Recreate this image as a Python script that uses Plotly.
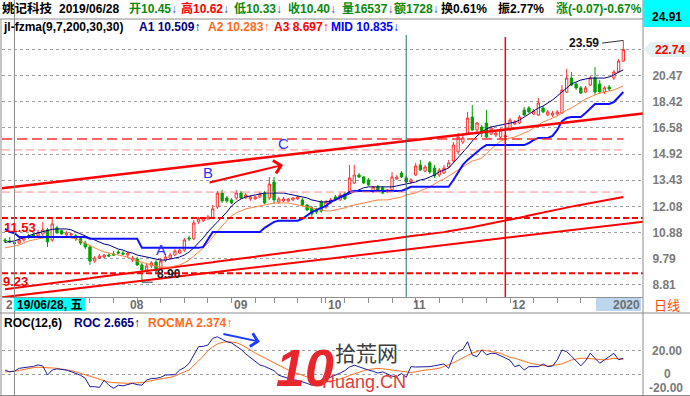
import math
import pandas as pd
import plotly.graph_objects as go

# ---------------- data ----------------
holidays = ["2019-09-13", "2019-10-01", "2019-10-02", "2019-10-03", "2019-10-04",
            "2019-10-07", "2020-01-01"]
dates = [d for d in pd.bdate_range("2019-06-26", "2020-01-06")
         if d.strftime("%Y-%m-%d") not in holidays]

open_ = [10.55, 10.51, 10.45, 10.42, 10.55, 10.73, 10.77, 10.73, 10.81, 10.99,
         10.55, 11.08, 10.95, 10.77, 10.77, 10.73, 10.60, 10.42, 10.26, 9.69,
         9.81, 9.85, 9.93, 9.97, 10.05, 10.01, 9.93, 9.73, 9.77, 9.54,
         9.35, 9.50, 9.65, 9.42, 9.73, 9.81, 9.93, 10.01, 10.13, 10.64,
         10.60, 11.35, 11.40, 11.49, 11.53, 12.05, 12.75, 12.50, 12.40, 12.50,
         12.75, 12.50, 12.45, 12.45, 12.55, 12.75, 12.50, 13.33, 12.30, 12.35,
         12.35, 12.40, 12.45, 12.40, 12.15, 12.01, 11.91, 12.30, 12.05, 12.25,
         12.55, 12.40, 12.70, 12.75, 13.28, 13.71, 13.60, 13.44, 12.81, 13.07,
         13.02, 12.81, 12.91, 13.49, 13.82, 13.55, 13.33, 13.71, 14.28, 13.93,
         14.40, 14.10, 13.71, 13.82, 14.16, 14.51, 15.05, 15.66, 16.24, 17.32,
         16.44, 16.64, 16.91, 16.17, 16.11, 15.98, 15.98, 16.44, 16.84, 16.91,
         17.82, 17.96, 17.53, 17.46, 17.96, 17.46, 17.46, 17.53, 17.60, 19.16,
         20.27, 19.79, 19.48, 19.16, 19.71, 20.27, 19.79, 19.16, 19.55, 20.27,
         20.77, 21.71]
high = [10.64, 10.68, 10.62, 10.64, 10.68, 10.81, 10.86, 10.99, 11.35, 11.08,
        11.49, 11.17, 10.99, 10.95, 10.86, 10.81, 10.68, 10.51, 10.34, 9.89,
        9.97, 9.97, 10.01, 10.09, 10.13, 10.09, 10.05, 9.89, 9.85, 9.62,
        9.58, 9.69, 9.73, 9.81, 9.97, 10.01, 10.17, 10.17, 10.64, 10.73,
        11.44, 11.58, 11.58, 11.67, 12.15, 12.86, 12.91, 12.60, 12.50, 12.91,
        12.86, 12.75, 12.65, 12.60, 12.81, 12.86, 13.60, 13.60, 12.55, 12.55,
        12.50, 12.55, 12.60, 12.50, 12.20, 12.10, 12.01, 12.40, 12.40, 12.50,
        12.65, 12.75, 12.81, 14.28, 14.28, 13.82, 13.66, 13.55, 13.12, 13.17,
        13.12, 12.96, 13.88, 13.71, 13.93, 13.66, 13.55, 14.40, 14.57, 14.28,
        14.51, 14.28, 14.10, 14.28, 14.57, 15.66, 16.24, 16.11, 17.68, 18.18,
        16.97, 16.77, 17.82, 16.70, 16.37, 16.57, 16.17, 17.25, 17.11, 17.46,
        18.03, 18.11, 17.89, 18.70, 18.11, 17.82, 17.75, 17.82, 19.71, 21.03,
        20.77, 19.95, 19.63, 19.63, 20.44, 21.19, 20.11, 19.63, 19.71, 20.94,
        21.89, 23.59]
low = [10.42, 10.42, 10.33, 10.38, 10.47, 10.60, 10.64, 10.68, 10.73, 10.26,
       10.47, 10.81, 10.77, 10.73, 10.68, 10.51, 10.34, 10.17, 9.54, 9.62,
       9.77, 9.81, 9.85, 9.89, 9.97, 9.93, 9.81, 9.65, 9.50, 8.90,
       9.27, 9.42, 9.20, 9.35, 9.65, 9.77, 9.89, 9.97, 10.05, 10.51,
       10.55, 11.26, 11.35, 11.44, 11.49, 11.96, 12.25, 12.25, 12.20, 12.40,
       12.45, 12.45, 12.35, 12.40, 12.50, 12.20, 12.40, 12.20, 12.20, 12.30,
       12.30, 12.35, 12.40, 12.10, 11.86, 11.58, 11.72, 11.77, 11.96, 12.20,
       12.35, 12.35, 12.40, 12.70, 13.22, 13.55, 13.22, 13.12, 12.75, 12.81,
       12.70, 12.75, 12.86, 13.44, 13.55, 13.28, 13.22, 13.66, 13.93, 13.88,
       13.77, 13.55, 13.60, 13.77, 14.10, 14.40, 14.92, 15.53, 16.11, 16.37,
       16.31, 15.98, 15.92, 16.11, 15.98, 15.85, 15.47, 16.37, 16.77, 16.84,
       17.39, 17.60, 17.46, 17.39, 17.60, 17.39, 17.32, 17.39, 17.53, 19.08,
       19.63, 19.32, 19.01, 19.08, 19.63, 18.93, 19.01, 19.01, 19.24, 20.11,
       20.69, 21.63]
close = [10.51, 10.47, 10.40, 10.55, 10.64, 10.68, 10.68, 10.86, 10.99, 10.47,
         11.26, 10.86, 10.81, 10.86, 10.81, 10.60, 10.42, 10.26, 9.69, 9.81,
         9.89, 9.93, 9.89, 9.93, 10.01, 9.97, 10.01, 9.81, 9.54, 9.35,
         9.50, 9.62, 9.31, 9.69, 9.85, 9.93, 10.09, 10.13, 10.55, 10.60,
         11.30, 11.49, 11.53, 11.58, 11.96, 12.75, 12.35, 12.35, 12.25, 12.75,
         12.50, 12.65, 12.55, 12.55, 12.70, 12.25, 13.22, 12.40, 12.45, 12.45,
         12.45, 12.50, 12.55, 12.15, 11.91, 11.72, 11.81, 11.86, 12.30, 12.40,
         12.40, 12.65, 12.45, 13.55, 13.71, 13.60, 13.28, 13.17, 13.07, 12.86,
         12.75, 12.91, 13.60, 13.60, 13.60, 13.33, 13.44, 14.22, 13.99, 14.16,
         13.88, 13.66, 13.99, 14.10, 14.40, 15.47, 15.98, 15.92, 17.25, 16.44,
         16.91, 16.24, 15.98, 16.57, 16.24, 16.44, 16.05, 17.11, 16.97, 17.32,
         17.46, 17.68, 17.75, 18.33, 17.68, 17.68, 17.60, 17.68, 19.32, 20.27,
         19.71, 19.48, 19.08, 19.48, 20.27, 19.16, 19.16, 19.48, 19.40, 20.77,
         21.71, 22.74]

a1 = [10.45, 10.48, 10.51, 10.58, 10.66, 10.73, 10.80, 10.86, 10.92, 10.97,
      11.01, 11.03, 11.03, 11.03, 10.99, 10.90, 10.81, 10.73, 10.64, 10.55,
      10.47, 10.38, 10.34, 10.26, 10.17, 10.13, 10.05, 10.01, 9.93, 9.89,
      9.85, 9.81, 9.77, 9.73, 9.73, 9.77, 9.81, 9.85, 9.93, 10.05,
      10.22, 10.42, 10.64, 10.90, 11.12, 11.35, 11.53, 11.81, 12.10, 12.30,
      12.45, 12.55, 12.60, 12.65, 12.70, 12.75, 12.75, 12.75, 12.75, 12.75,
      12.70, 12.65, 12.60, 12.55, 12.50, 12.40, 12.35, 12.30, 12.30, 12.35,
      12.40, 12.50, 12.60, 12.70, 12.81, 12.91, 13.02, 13.07, 13.07, 13.07,
      13.07, 13.07, 13.07, 13.12, 13.17, 13.22, 13.28, 13.33, 13.44, 13.49,
      13.60, 13.71, 13.88, 13.99, 14.10, 14.40, 14.69, 15.05, 15.35, 15.72,
      16.05, 16.31, 16.51, 16.64, 16.70, 16.77, 16.84, 16.91, 16.97, 17.11,
      17.32, 17.53, 17.75, 17.96, 18.11, 18.33, 18.55, 18.85, 19.16, 19.48,
      19.79, 19.95, 20.11, 20.19, 20.27, 20.27, 20.27, 20.27, 20.36, 20.52,
      20.77, 20.94]
a2 = [10.22, 10.26, 10.28, 10.34, 10.42, 10.51, 10.55, 10.60, 10.64, 10.68,
      10.68, 10.68, 10.68, 10.68, 10.64, 10.60, 10.51, 10.42, 10.34, 10.22,
      10.13, 10.05, 10.01, 9.97, 9.93, 9.89, 9.85, 9.77, 9.69, 9.65,
      9.58, 9.54, 9.50, 9.46, 9.46, 9.46, 9.50, 9.54, 9.62, 9.73,
      9.89, 10.05, 10.22, 10.42, 10.68, 10.95, 11.17, 11.40, 11.63, 11.77,
      11.86, 11.96, 12.01, 12.05, 12.10, 12.15, 12.20, 12.25, 12.25, 12.25,
      12.25, 12.20, 12.15, 12.10, 12.05, 12.01, 11.96, 11.91, 11.86, 11.86,
      11.91, 11.96, 12.01, 12.10, 12.15, 12.20, 12.25, 12.30, 12.35, 12.40,
      12.40, 12.40, 12.45, 12.50, 12.55, 12.65, 12.70, 12.75, 12.86, 12.96,
      13.07, 13.22, 13.39, 13.49, 13.66, 13.82, 13.99, 14.16, 14.34, 14.51,
      14.58, 14.69, 14.92, 15.23, 15.47, 15.72, 15.85, 15.92, 15.98, 16.11,
      16.24, 16.37, 16.57, 16.77, 16.97, 17.11, 17.25, 17.39, 17.60, 17.82,
      17.96, 18.18, 18.40, 18.62, 18.78, 18.93, 19.08, 19.16, 19.24, 19.32,
      19.48, 19.63]
a3 = [8.65, 8.67, 8.70, 8.71, 8.74, 8.76, 8.78, 8.80, 8.82, 8.85,
      8.87, 8.89, 8.91, 8.93, 8.95, 8.98, 9.00, 9.02, 9.04, 9.07,
      9.09, 9.11, 9.13, 9.16, 9.18, 9.20, 9.22, 9.25, 9.27, 9.29,
      9.32, 9.34, 9.36, 9.39, 9.41, 9.43, 9.46, 9.48, 9.50, 9.53,
      9.55, 9.57, 9.60, 9.62, 9.64, 9.67, 9.69, 9.72, 9.74, 9.77,
      9.79, 9.81, 9.84, 9.86, 9.89, 9.91, 9.94, 9.96, 9.99, 10.01,
      10.04, 10.06, 10.09, 10.11, 10.14, 10.16, 10.19, 10.21, 10.24, 10.26,
      10.29, 10.32, 10.34, 10.37, 10.39, 10.42, 10.44, 10.47, 10.50, 10.52,
      10.55, 10.58, 10.60, 10.63, 10.66, 10.68, 10.71, 10.74, 10.76, 10.78,
      10.80, 10.83, 10.86, 10.89, 10.93, 10.96, 10.99, 11.03, 11.07, 11.11,
      11.15, 11.19, 11.23, 11.27, 11.31, 11.35, 11.40, 11.44, 11.49, 11.54,
      11.59, 11.64, 11.69, 11.74, 11.79, 11.84, 11.89, 11.93, 11.98, 12.02,
      12.07, 12.11, 12.15, 12.19, 12.23, 12.27, 12.32, 12.36, 12.41, 12.45,
      12.50, 12.55]
mid = [11.03, 10.90, 10.84, 10.68, 10.68, 10.68, 10.68, 10.68, 10.68, 10.68,
       10.68, 10.68, 10.68, 10.68, 10.68, 10.68, 10.68, 10.68, 10.60, 10.60,
       10.60, 10.60, 10.60, 10.60, 10.60, 10.60, 10.60, 10.60, 10.60, 10.22,
       10.22, 10.22, 10.22, 10.22, 10.22, 10.22, 10.22, 10.22, 10.22, 10.22,
       10.22, 10.22, 10.26, 10.55, 10.90, 10.90, 10.90, 10.90, 10.90, 10.90,
       10.90, 10.90, 10.90, 10.90, 10.90, 11.08, 11.21, 11.35, 11.40, 11.40,
       11.40, 11.40, 11.40, 11.49, 11.67, 11.81, 11.91, 12.01, 12.10, 12.30,
       12.40, 12.55, 12.65, 12.81, 12.86, 12.86, 12.86, 12.86, 12.86, 12.86,
       12.86, 12.86, 12.86, 12.86, 12.86, 12.96, 13.07, 13.07, 13.07, 13.07,
       13.07, 13.07, 13.07, 13.07, 13.07, 13.44, 13.88, 14.28, 14.57, 14.80,
       15.05, 15.29, 15.47, 15.47, 15.47, 15.47, 15.47, 15.47, 15.47, 15.47,
       15.47, 15.60, 15.79, 15.92, 15.92, 15.92, 16.05, 16.44, 17.04, 17.25,
       17.32, 17.32, 17.32, 17.60, 17.96, 18.26, 18.26, 18.26, 18.26, 18.40,
       18.78, 19.16]
roc = [3.5, 2.0, 2.67, 4.9, 5.5, 5.8, 6.5, 7.7, 6.9, -0.6,
       3.5, 4.5, 4.0, 3.5, 2.2, 0.8, -0.8, -3.3, -10.2, -10.2,
       -10.8, -5.0, -9.0, -11.5, -9.0, -9.5, -8.5, -7.4, -8.5, -9.0,
       -4.7, -3.5, -3.3, -2.5, -0.6, -0.6, -0.3, 3.5, 5.5, 9.0,
       16.0, 22.7, 23.0, 24.1, 29.6, 30.9, 28.8, 26.8, 25.8, 23.5,
       20.5, 16.8, 13.5, 10.8, 7.7, 6.5, 5.0, 3.0, -0.8, -2.0,
       -3.0, -4.5, -5.0, -6.0, -7.5, -9.0, -8.0, -6.5, -4.0, -2.5,
       -1.0, 1.0, 3.0, 6.0, 7.5, 6.0, 4.5, 3.5, 2.5, 1.0,
       2.0, 0.0, -1.5, -2.0, 0.8, -2.5, 6.3, 6.0, 6.0, 6.0,
       6.3, 7.0, 8.0, 8.5, 4.9, 15.0, 19.0, 20.5, 26.8, 15.9,
       14.5, 20.0, 16.0, 17.3, 17.0, 15.5, 13.5, 11.5, 6.3, 7.5,
       3.5, 6.3, 6.3, 6.3, 8.5, 6.3, 6.8, 11.8, 20.0, 18.6,
       15.0, 11.0, 7.0, 11.0, 17.3, 13.2, 9.1, 11.8, 14.5, 17.3,
       12.0, 13.2]
rocma = [2.0, 2.2, 2.37, 3.2, 4.1, 4.8, 5.5, 5.8, 5.8, 5.6,
         5.2, 4.9, 4.4, 3.8, 3.0, 2.0, 0.8, -0.3, -1.4, -2.8,
         -4.3, -5.5, -6.4, -6.9, -7.2, -7.4, -7.4, -7.2, -7.0, -6.9,
         -6.0, -5.0, -4.5, -3.8, -3.3, -2.5, -1.4, 0.5, 2.0, 3.5,
         7.0, 11.0, 15.0, 19.5, 22.5, 25.0, 26.2, 26.8, 26.6, 26.0,
         24.5, 22.5, 20.0, 17.5, 15.5, 13.0, 11.5, 9.5, 7.5, 5.5,
         3.5, 2.0, 0.5, -1.0, -2.5, -4.0, -5.0, -5.5, -5.8, -5.5,
         -5.0, -4.0, -2.5, -1.0, 0.5, 2.0, 3.0, 4.0, 4.5, 4.9,
         4.5, 4.0, 3.5, 3.0, 2.5, 2.0, 1.5, 2.0, 3.0, 3.5,
         3.8, 4.1, 5.0, 6.5, 7.7, 9.5, 11.5, 13.2, 15.5, 17.5,
         18.6, 20.0, 19.5, 18.6, 17.8, 17.3, 15.5, 14.0, 13.2, 11.8,
         10.4, 9.5, 8.5, 7.7, 7.2, 6.8, 7.0, 7.8, 8.5, 10.0,
         11.8, 12.5, 13.2, 13.2, 13.0, 12.3, 12.0, 11.8, 12.5, 13.2,
         12.8, 12.3]

price_ticks = [22.74, 20.47, 18.42, 16.58, 14.92, 13.43, 12.08, 10.88, 9.79, 8.81]

# user-drawn lines: (bar index, price)
channel_top_x, channel_top_y = [-0.64, 135.17], [13.00, 17.57]
channel_low_x, channel_low_y = [-0.64, 135.17], [8.37, 11.36]
level_values = [11.53, 9.23]
dash_levels = [15.85, 15.17, 12.80]
arrow_b = dict(x=58.9, price=14.28)
arrow_roc = dict(x=54.0, value=26.8)
high_mark = dict(i=131, price=23.59, label_x=126.5, label_price=23.34)
low_mark = dict(i=29, price=8.90)

assert all(len(s) == len(dates) for s in
           [open_, high, low, close, a1, a2, a3, mid, roc, rocma])
xs = list(range(len(dates)))

# ---------------- helpers ----------------
FONT = "Liberation Sans, Arial, Noto Sans CJK SC, sans-serif"
X0, X1 = 2, 643


def pxx(p):
    return (p - X0) / (X1 - X0)


def pyy(p):
    return 1 - p / 396


def span(s, c):
    return f'<span style="color:{c}">{s}</span>'


def txt(s, x, y, color="#000000", size=12, anchor="left", bold=True, family=FONT):
    return dict(text=(f"<b>{s}</b>" if bold else s), x=pxx(x), y=pyy(y),
                xref="paper", yref="paper", xanchor=anchor, yanchor="middle",
                showarrow=False, font=dict(color=color, size=size, family=family))


GREEN = "#0a8a0a"
RED = "#ff0000"
NAVY = "#000080"
ORANGE = "#ff6a1a"
BLUE = "#0000ff"
GRAY = "#7a7a7a"

fig = go.Figure()

# candles
fig.add_trace(go.Candlestick(
    x=xs, open=open_, high=high, low=low, close=close,
    increasing=dict(line=dict(color="#ff3030", width=1), fillcolor="#ffffff"),
    decreasing=dict(line=dict(color="#00a000", width=1), fillcolor="#00a000"),
    whiskerwidth=0, hoverinfo="skip", xaxis="x", yaxis="y"))

# indicator lines
fig.add_trace(go.Scatter(x=xs, y=a3, mode="lines", line=dict(color=RED, width=2), hoverinfo="skip"))
fig.add_trace(go.Scatter(x=xs, y=a2, mode="lines", line=dict(color="#ff8040", width=1), hoverinfo="skip"))
fig.add_trace(go.Scatter(x=xs, y=a1, mode="lines", line=dict(color=NAVY, width=1), hoverinfo="skip"))
fig.add_trace(go.Scatter(x=xs, y=mid, mode="lines", line=dict(color="#1010ff", width=2), hoverinfo="skip"))

# dashed indicator levels
for lv, col, w, dsh in zip(dash_levels, ["#ff3030", "#ff8a8a", "#ff8a8a"], [1.5, 1, 1],
                           ["10px,5px", "8px,4px", "8px,4px"]):
    fig.add_trace(go.Scatter(x=[-0.64, xs[-1]], y=[lv, lv], mode="lines",
                             line=dict(color=col, width=w, dash=dsh), hoverinfo="skip"))

# user lines
fig.add_trace(go.Scatter(x=channel_top_x, y=channel_top_y, mode="lines",
                         line=dict(color=RED, width=2.5), hoverinfo="skip"))
fig.add_trace(go.Scatter(x=channel_low_x, y=channel_low_y, mode="lines",
                         line=dict(color=RED, width=2), hoverinfo="skip"))
for lv in level_values:
    fig.add_trace(go.Scatter(x=[-0.64, 135.17], y=[lv, lv], mode="lines",
                             line=dict(color=RED, width=2, dash="6px,3px"), hoverinfo="skip"))

# high / low markers
fig.add_trace(go.Scatter(x=[high_mark["label_x"], high_mark["i"]],
                         y=[high_mark["label_price"], high_mark["price"]], mode="lines",
                         line=dict(color="#303030", width=1), hoverinfo="skip"))
fig.add_trace(go.Scatter(x=[low_mark["i"], low_mark["i"] + 2.3],
                         y=[low_mark["price"], low_mark["price"]], mode="lines",
                         line=dict(color="#303030", width=1), hoverinfo="skip"))

# ROC panel
fig.add_trace(go.Scatter(x=xs, y=rocma, mode="lines", line=dict(color="#ff7020", width=1),
                         xaxis="x2", yaxis="y2", hoverinfo="skip"))
fig.add_trace(go.Scatter(x=xs, y=roc, mode="lines", line=dict(color="#1c1c9c", width=1),
                         xaxis="x2", yaxis="y2", hoverinfo="skip"))

# ticks
week_idx = [i for i in range(1, len(dates))
            if dates[i].isocalendar()[1] != dates[i - 1].isocalendar()[1]]
month_idx = [i for i in range(1, len(dates)) if dates[i].month != dates[i - 1].month and i > 10]

fig.update_layout(
    width=690, height=396, margin=dict(l=X0, r=690 - X1, t=0, b=0, autoexpand=False),
    paper_bgcolor="white", plot_bgcolor="white", showlegend=False, hovermode=False,
    xaxis=dict(domain=[0, 1], range=[-0.64, 135.17], anchor="y",
               rangeslider=dict(visible=False), showgrid=False, zeroline=False,
               showticklabels=False, ticks="outside", ticklen=5, tickcolor="#909090",
               tickvals=week_idx, showline=True, linecolor="#909090", linewidth=1),
    yaxis=dict(domain=[1 - 297 / 396, 1 - 19 / 396], type="log",
               range=[math.log10(8.383), math.log10(25.72)], side="right", anchor="x",
               tickvals=price_ticks,
               ticktext=[""] + [f"{v:.2f}" for v in price_ticks[1:]],
               showgrid=True, gridcolor="#a0a0a0", griddash="dot", gridwidth=1,
               ticks="outside", ticklen=6, tickcolor="rgba(0,0,0,0)",
               tickfont=dict(family=FONT, size=12, color=GRAY, weight="bold"),
               zeroline=False, showline=False),
    xaxis2=dict(domain=[0, 1], matches="x", anchor="y2", showticklabels=False,
                showgrid=False, zeroline=False, ticks=""),
    yaxis2=dict(domain=[0, 1 - 313 / 396], range=[-17.86, 50.45], anchor="x2", side="right",
                tickvals=[0, 20], showticklabels=False, showgrid=True, gridcolor="#a0a0a0",
                griddash="dot", zeroline=False, ticks=""),
)

LC = "#8c8c8c"
shapes = [
    # frame
    dict(type="line", xref="paper", yref="paper", x0=pxx(0), x1=pxx(643), y0=pyy(19), y1=pyy(19),
         line=dict(color=LC, width=1)),
    dict(type="line", xref="paper", yref="paper", x0=pxx(0), x1=pxx(690), y0=pyy(313), y1=pyy(313),
         line=dict(color=LC, width=1)),
    dict(type="line", xref="paper", yref="paper", x0=pxx(0), x1=pxx(690), y0=pyy(395.5), y1=pyy(395.5),
         line=dict(color=LC, width=1)),
    dict(type="line", xref="paper", yref="paper", x0=pxx(643), x1=pxx(643), y0=0, y1=1,
         line=dict(color=LC, width=1)),
    dict(type="line", xref="paper", yref="paper", x0=pxx(1), x1=pxx(1), y0=pyy(19), y1=0,
         line=dict(color=LC, width=1)),
    # vertical markers
    dict(type="line", xref="x", yref="paper", x0=2, x1=2, y0=0, y1=1,
         line=dict(color="#8a8a8a", width=1)),
    dict(type="line", xref="x", yref="paper", x0=85, x1=85, y0=pyy(297), y1=pyy(35),
         line=dict(color="#1f7070", width=1)),
    dict(type="line", xref="x", yref="paper", x0=106, x1=106, y0=pyy(297), y1=pyy(37),
         line=dict(color="#ff0000", width=1.5)),
    # top-right box
    dict(type="rect", xref="paper", yref="paper", x0=pxx(643), x1=pxx(690), y0=pyy(27), y1=pyy(0),
         fillcolor="#00ffff", line=dict(width=0)),
    # current price tag
    dict(type="path", xref="paper", yref="paper",
         path=f"M {pxx(643)},{pyy(49.5)} L {pxx(651)},{pyy(42)} L {pxx(690)},{pyy(42)} "
              f"L {pxx(690)},{pyy(57)} L {pxx(651)},{pyy(57)} Z",
         fillcolor="#e2f1f1", line=dict(width=0)),
    # date boxes in x strip
    dict(type="rect", xref="paper", yref="paper", x0=pxx(14), x1=pxx(85), y0=pyy(311), y1=pyy(298),
         fillcolor="#00ffff", line=dict(width=0)),
    dict(type="rect", xref="paper", yref="paper", x0=pxx(596), x1=pxx(641), y0=pyy(311), y1=pyy(298),
         fillcolor="#bcd6ef", line=dict(width=0)),
]
fig.update_layout(shapes=shapes)

ann = []
# header row 1
ann.append(txt("姚记科技", 0, 9, size=12.5))
ann.append(txt("2019/06/28", 57, 9))
ann.append(txt(span("开10.45", GREEN) + span("↓", "#3050c0"), 127, 9))
ann.append(txt(span("高10.62", RED) + span("↓", "#3050c0"), 179, 9))
ann.append(txt(span("低10.33", GREEN) + span("↓", "#3050c0"), 232, 9))
ann.append(txt(span("收10.40", GREEN) + span("↓", "#3050c0"), 286, 9))
ann.append(txt(span("量16537", GREEN) + span("↓", "#3050c0"), 340, 9))
ann.append(txt(span("额1728", GREEN) + span("↓", "#3050c0"), 392, 9))
ann.append(txt("换0.61%", 439, 9))
ann.append(txt("振2.77%", 496, 9))
ann.append(txt(span("涨(-0.07)-0.67%", GREEN), 554, 9))
# header row 2
ann.append(txt("jl-fzma(9,7,200,30,30)", 1, 27))
ann.append(txt(span("A1 10.509↑", NAVY), 137, 27))
ann.append(txt(span("A2 10.283↑", ORANGE), 206, 27))
ann.append(txt(span("A3 8.697↑", RED), 272, 27))
ann.append(txt(span("MID 10.835↓", BLUE), 329, 27))
# top-right value
ann.append(txt("24.91", 666.5, 17, anchor="center"))
ann.append(txt("22.74", 670, 49.5, color=RED, anchor="center"))
# chart labels
ann.append(txt("23.59", 601, 43, anchor="right", color="#101010"))
ann.append(txt("8.90", 155, 274, color="#202020"))
ann.append(txt("11.53", 2, 227, color=RED, size=13))
ann.append(txt("9.23", 1, 281, color=RED, size=13))
ann.append(txt("A", 161, 249, color="#3030ff", size=15, anchor="center", bold=False))
ann.append(txt("B", 208, 172, color="#3030ff", size=15, anchor="center", bold=False))
ann.append(txt("C", 283, 143, color="#3030ff", size=15, anchor="center", bold=False))
# x strip
ann.append(txt("2", 4, 305, color="#6e6e6e"))
ann.append(txt("19/06/28, 五", 15, 305, color="#000000"))
for i in month_idx:
    lab = "2020" if dates[i].month == 1 else dates[i].strftime("%m")
    if lab == "2020":
        ann.append(txt(lab, 642, 305, color="#6e6e6e", anchor="right"))
    else:
        ann.append(dict(text=f"<b>{lab}</b>", x=i, y=pyy(305), xref="x", yref="paper",
                        xanchor="left", yanchor="middle", showarrow=False,
                        font=dict(color="#6e6e6e", size=12, family=FONT)))
ann.append(txt("日线", 652, 305, color="#ff4a00", size=13, bold=False))
# ROC header and labels
ann.append(txt("ROC(12,6)", 2, 323))
ann.append(txt(span("ROC 2.665↑", NAVY), 72, 323))
ann.append(txt(span("ROCMA 2.374↑", ORANGE), 146, 323))
ann.append(txt("20.00", 650, 351, color=GRAY))
ann.append(txt("0", 667, 374, color=GRAY, anchor="center"))
ann.append(txt("-20.00", 647, 388, color=GRAY))
# watermark
ann.append(txt("<i>10</i>", 305, 368, color="#e8262c", size=52, anchor="center"))
ann.append(txt("拾荒网", 366, 352, color="#3c3c3c", size=21, anchor="center", bold=False,
               family="Noto Sans CJK SC"))
ann.append(txt("Huang.CN", 364, 382, color="#e03c3c", size=18, anchor="center", bold=False))
# arrows
ann.append(dict(x=arrow_b["x"], y=math.log10(arrow_b["price"]), xref="x", yref="y",
                ax=-75, ay=18, showarrow=True, arrowhead=4, arrowsize=1.3, arrowwidth=2,
                arrowcolor=RED, text=""))
ann.append(dict(x=arrow_roc["x"], y=arrow_roc["value"], xref="x2", yref="y2",
                ax=-38, ay=-8, showarrow=True, arrowhead=4, arrowsize=1.3, arrowwidth=2,
                arrowcolor="#1a3cff", text=""))
fig.update_layout(annotations=ann)

fig.write_html("out.html",
               config={"displayModeBar": False, "staticPlot": True},
               post_script="document.body.style.margin='0px';"
                           "document.body.style.overflow='hidden';")
